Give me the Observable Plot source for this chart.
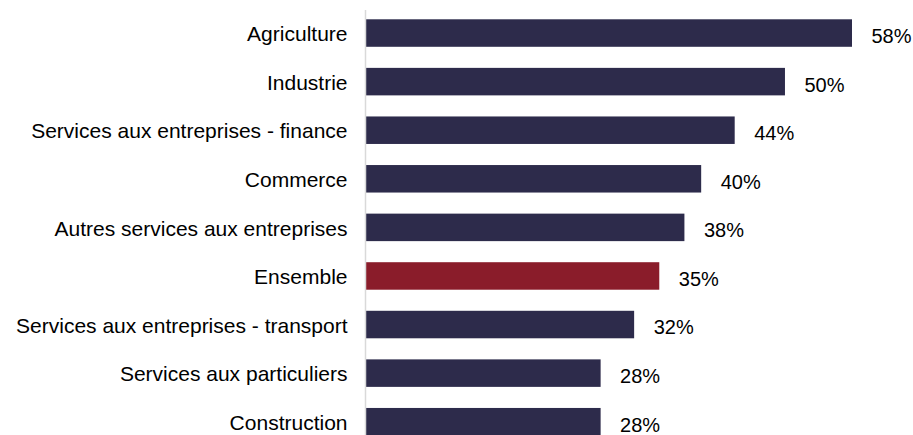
<!DOCTYPE html>
<html>
<head>
<meta charset="utf-8">
<script src="https://cdn.jsdelivr.net/npm/d3@7"></script>
<script src="https://cdn.jsdelivr.net/npm/@observablehq/plot@0.6"></script>
<style>
  html, body { margin: 0; padding: 0; background: #fff; }
  #chart svg { display: block; }
</style>
</head>
<body>
<div id="chart"></div>
<script>
const categories = [
  "Agriculture",
  "Industrie",
  "Services aux entreprises - finance",
  "Commerce",
  "Autres services aux entreprises",
  "Ensemble",
  "Services aux entreprises - transport",
  "Services aux particuliers",
  "Construction"
];
const values = [58, 50, 44, 40, 38, 35, 32, 28, 28];
const highlight = "Ensemble";

const data = categories.map((c, i) => ({category: c, value: values[i]}));

const chart = Plot.plot({
  width: 913,
  height: 435,
  marginLeft: 366,
  marginRight: 61,
  marginTop: 10,
  marginBottom: 0,
  style: {fontFamily: "'Liberation Sans', Arial, sans-serif", fontSize: "20px", background: "#fff"},
  x: {domain: [0, 58], axis: null, round: false},
  y: {domain: categories, range: [8.75, 446], paddingInner: 0.434, paddingOuter: 0.217, round: false, axis: null},
  marks: [
    Plot.barX(data, {
      x: "value",
      y: "category",
      fill: d => d.category === highlight ? "#8a1c2a" : "#2d2b4b"
    }),
    Plot.ruleX([0], {stroke: "#d9d9d9", strokeWidth: 1.5, dx: -1}),
    Plot.text(data, {
      x: 0,
      y: "category",
      text: "category",
      textAnchor: "end",
      dx: -19,
      dy: 1,
      fill: "#000",
      fontSize: 21
    }),
    Plot.text(data, {
      x: "value",
      y: "category",
      text: d => d.value + "%",
      textAnchor: "start",
      dx: 19,
      dy: 3,
      fill: "#000",
      fontSize: 20
    })
  ]
});
document.getElementById("chart").append(chart);
</script>
</body>
</html>
